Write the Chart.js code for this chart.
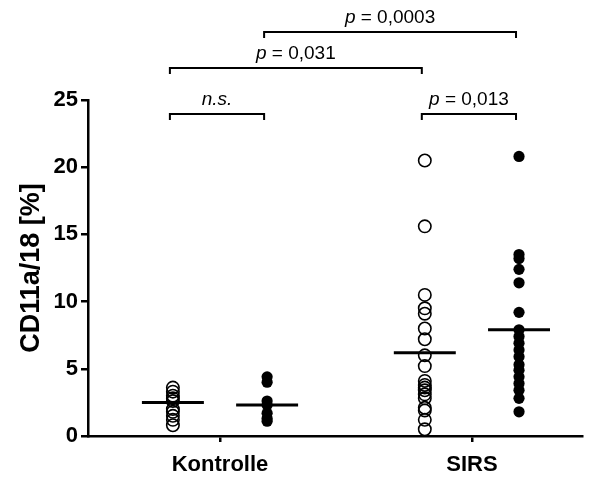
<!DOCTYPE html>
<html>
<head>
<meta charset="utf-8">
<script src="https://cdn.jsdelivr.net/npm/chart.js@4"></script>
<style>
  html, body { margin: 0; padding: 0; background: #fff; }
  #wrap { width: 590px; height: 478px; }
</style>
</head>
<body>
<div id="wrap"><canvas id="cd11Chart" width="590" height="478"></canvas></div>
<script>
// groups on the x axis
const groups = ['Kontrolle', 'SIRS'];
const yTicks = [0, 5, 10, 15, 20, 25];

// CD11a/18 [%] per patient, open = first marker, filled = second marker
const kontrolleOpen = [3.6, 3.3, 3.0, 2.8, 2.6, 2.0, 1.8, 1.5, 1.2, 0.8];
const kontrolleFilled = [4.4, 4.0, 2.6, 2.3, 1.7, 1.3, 1.1];
const sirsOpen = [20.5, 15.6, 10.5, 9.5, 9.1, 8.0, 7.2, 6.0, 5.2, 4.1, 3.8, 3.6, 3.4, 3.1, 2.8, 2.1, 1.9, 1.2, 0.5];
const sirsFilled = [20.8, 13.5, 13.2, 12.4, 11.4, 9.2, 7.9, 7.4, 6.9, 6.4, 5.9, 5.3, 4.9, 4.4, 3.9, 3.4, 2.8, 1.8];

// group mean lines [Kontrolle, SIRS]
const meanOpen = [2.5, 6.2];
const meanFilled = [2.3, 7.9];

// significance brackets: from/to column index (0..3), label, level
const brackets = [
  { from: 0, to: 1, label: 'n.s.', level: 0 },
  { from: 2, to: 3, label: 'p = 0,013', level: 0 },
  { from: 0, to: 2, label: 'p = 0,031', level: 1 },
  { from: 1, to: 3, label: 'p = 0,0003', level: 2 }
];

const FONT = '"Liberation Sans", Arial, sans-serif';
const OFFSET = 0.187;     // shift of open/filled columns from group tick
const HALF = 0.123;       // half width of mean line

// x position of each of the four columns
const colX = [1 - OFFSET, 1 + OFFSET, 2 - OFFSET, 2 + OFFSET];

function toPoints(values, x) {
  return values.map(v => ({ x: x, y: v }));
}

function meanLine(v, x) {
  return [{ x: x - HALF, y: v }, { x: x + HALF, y: v }];
}

const openStyle = {
  pointRadius: 6.2,
  pointBorderWidth: 1.6,
  pointBorderColor: '#000',
  pointBackgroundColor: 'rgba(0,0,0,0)',
  showLine: false
};
const filledStyle = {
  pointRadius: 5.6,
  pointBorderWidth: 0,
  pointBackgroundColor: '#000',
  showLine: false
};
const lineStyle = {
  type: 'line',
  showLine: true,
  borderColor: '#000',
  borderWidth: 3,
  pointRadius: 0,
  fill: false
};

// brackets and p-values drawn in the space above the plot
const bracketPlugin = {
  id: 'brackets',
  afterDraw(chart) {
    const ctx = chart.ctx;
    const xs = chart.scales.x;
    const levelY = [114, 68, 32];
    ctx.save();
    ctx.strokeStyle = '#000';
    ctx.lineWidth = 2;
    ctx.fillStyle = '#000';
    brackets.forEach(b => {
      const x1 = xs.getPixelForValue(colX[b.from]) - 3;
      const x2 = xs.getPixelForValue(colX[b.to]) - 3;
      const y = levelY[b.level];
      ctx.beginPath();
      ctx.moveTo(x1, y + 6);
      ctx.lineTo(x1, y);
      ctx.lineTo(x2, y);
      ctx.lineTo(x2, y + 6);
      ctx.stroke();

      const cx = (x1 + x2) / 2;
      const ty = y - 9;
      ctx.textBaseline = 'alphabetic';
      if (b.label === 'n.s.') {
        ctx.font = 'italic 19px ' + FONT;
        ctx.textAlign = 'center';
        ctx.fillText(b.label, cx, ty);
      } else {
        // italic p followed by upright rest
        const rest = b.label.slice(1);
        ctx.font = 'italic 19px ' + FONT;
        const wp = ctx.measureText('p').width;
        ctx.font = '19px ' + FONT;
        const wr = ctx.measureText(rest).width;
        const start = cx - (wp + wr) / 2;
        ctx.textAlign = 'left';
        ctx.font = 'italic 19px ' + FONT;
        ctx.fillText('p', start, ty);
        ctx.font = '19px ' + FONT;
        ctx.fillText(rest, start + wp, ty);
      }
    });
    ctx.restore();
  }
};

const ctx = document.getElementById('cd11Chart').getContext('2d');
new Chart(ctx, {
  type: 'scatter',
  data: {
    datasets: [
      Object.assign({ data: toPoints(kontrolleOpen, colX[0]) }, openStyle),
      Object.assign({ data: toPoints(kontrolleFilled, colX[1]) }, filledStyle),
      Object.assign({ data: toPoints(sirsOpen, colX[2]) }, openStyle),
      Object.assign({ data: toPoints(sirsFilled, colX[3]) }, filledStyle),
      Object.assign({ data: meanLine(meanOpen[0], colX[0]) }, lineStyle),
      Object.assign({ data: meanLine(meanFilled[0], colX[1]) }, lineStyle),
      Object.assign({ data: meanLine(meanOpen[1], colX[2]) }, lineStyle),
      Object.assign({ data: meanLine(meanFilled[1], colX[3]) }, lineStyle)
    ]
  },
  options: {
    responsive: false,
    animation: false,
    layout: { padding: { top: 100, right: 8, left: 0, bottom: 0 } },
    plugins: {
      legend: { display: false },
      tooltip: { enabled: false }
    },
    scales: {
      x: {
        type: 'linear',
        min: 0.476,
        max: 2.437,
        afterBuildTicks: s => { s.ticks = [{ value: 1 }, { value: 2 }]; },
        afterFit: s => { s.height = 42; },
        grid: { display: true, drawOnChartArea: false, drawTicks: true, tickLength: 6, color: '#000', lineWidth: 2.5 },
        border: { display: true, color: '#000', width: 2.5 },
        ticks: {
          color: '#000',
          padding: 10,
          font: { family: FONT, size: 22, weight: 'bold' },
          callback: v => groups[v - 1]
        }
      },
      y: {
        min: 0,
        max: 25,
        afterBuildTicks: s => { s.ticks = yTicks.map(v => ({ value: v })); },
        afterFit: s => { s.width = 88; },
        grid: { display: true, drawOnChartArea: false, drawTicks: true, tickLength: 7, color: '#000', lineWidth: 2.5 },
        border: { display: true, color: '#000', width: 2.5 },
        ticks: {
          color: '#000',
          padding: 3,
          font: { family: FONT, size: 22, weight: 'bold' }
        },
        title: {
          display: true,
          text: 'CD11a/18 [%]',
          color: '#000',
          padding: { top: 15, bottom: 0 },
          font: { family: FONT, size: 27, weight: 'bold' }
        }
      }
    }
  },
  plugins: [bracketPlugin]
});
</script>
</body>
</html>
